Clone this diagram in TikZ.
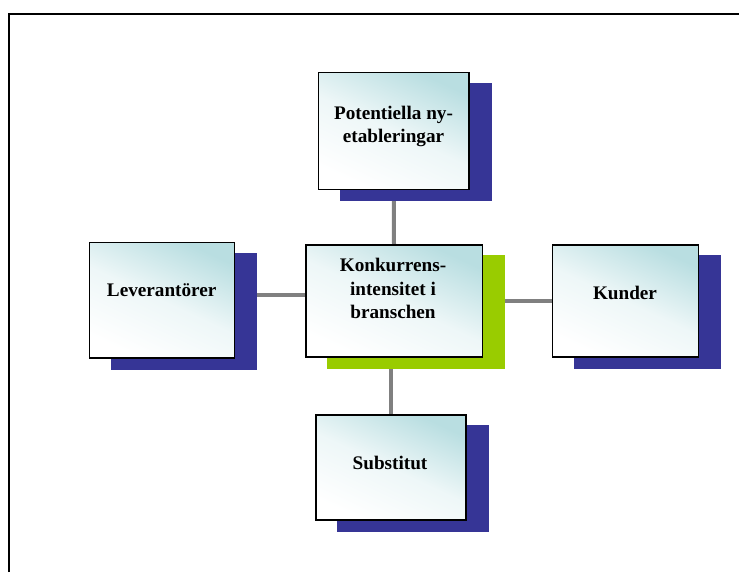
\documentclass[tikz,border=0pt]{standalone}
\usepackage{fontspec}
\setmainfont{Liberation Serif}
\definecolor{shadowblue}{RGB}{54,53,150}
\definecolor{shadowgreen}{RGB}{153,204,0}
\definecolor{linkgray}{RGB}{128,128,128}
\definecolor{boxteal}{RGB}{185,222,225}
\pgfdeclarelayer{links}
\pgfdeclarelayer{shadows}
\pgfsetlayers{links,shadows,main}
\begin{document}
\begin{tikzpicture}[x=0.75pt,y=-0.75pt,
  box/.style={draw=black, line width=1.2pt, rectangle, inner sep=0pt,
    top color=boxteal, bottom color=white, middle color=boxteal!25,
    shading angle=-25},
  lbl/.style={font=\bfseries\fontsize{14.4}{17.4}\selectfont, align=center, inner sep=0pt},
  link/.style={draw=linkgray, line width=3pt},
  shadowfill/.style={fill=#1}
]
\useasboundingbox (0,0) rectangle (739,572);

% page frame
\draw[line width=1.5pt] (9,572) -- (9,14) -- (739,14);

% boxes
\node[box, minimum width=113pt, minimum height=87.75pt] (pot) at (393.7,130.8) {};
\node[box, minimum width=132.45pt, minimum height=83.8pt] (kon) at (394,300.9) {};
\node[box, minimum width=108.75pt, minimum height=86.55pt] (lev) at (161.8,300) {};
\node[box, minimum width=109.5pt, minimum height=83.8pt] (kun) at (625.3,300.9) {};
\node[box, minimum width=112.5pt, minimum height=78.75pt] (sub) at (390.7,467.5) {};

% labels
\node[lbl] (tpot) at (393.5,126.5) {Potentiella ny-\\etableringar};
\node[lbl] (tkon) at (393,288.5) {Konkurrens-\\intensitet i\\branschen};
\node[lbl] (tlev) at (161.7,290) {Leverantörer};
\node[lbl] (tkun) at (625,292.7) {Kunder};
\node[lbl] (tsub) at (390,463) {Substitut};

% offset shadows behind the boxes
\begin{pgfonlayer}{shadows}
  \foreach \b/\c in {pot/shadowblue, kon/shadowgreen, lev/shadowblue, kun/shadowblue, sub/shadowblue}
    \fill[shadowfill=\c] ([shift={(22,11)}]\b.south west) rectangle ([shift={(22,11)}]\b.north east);
\end{pgfonlayer}

% connectors
\begin{pgfonlayer}{links}
  \draw[link] (pot.south) -- (kon.north);
  \draw[link] (sub.north) -- (sub.north |- kon.south);
  \coordinate (levj) at ([shift={(0,-5)}]lev.east);
  \draw[link] (levj) -- (levj -| kon.west);
  \draw[link] (kon.east) -- (kun.west);
\end{pgfonlayer}
\end{tikzpicture}
\end{document}
